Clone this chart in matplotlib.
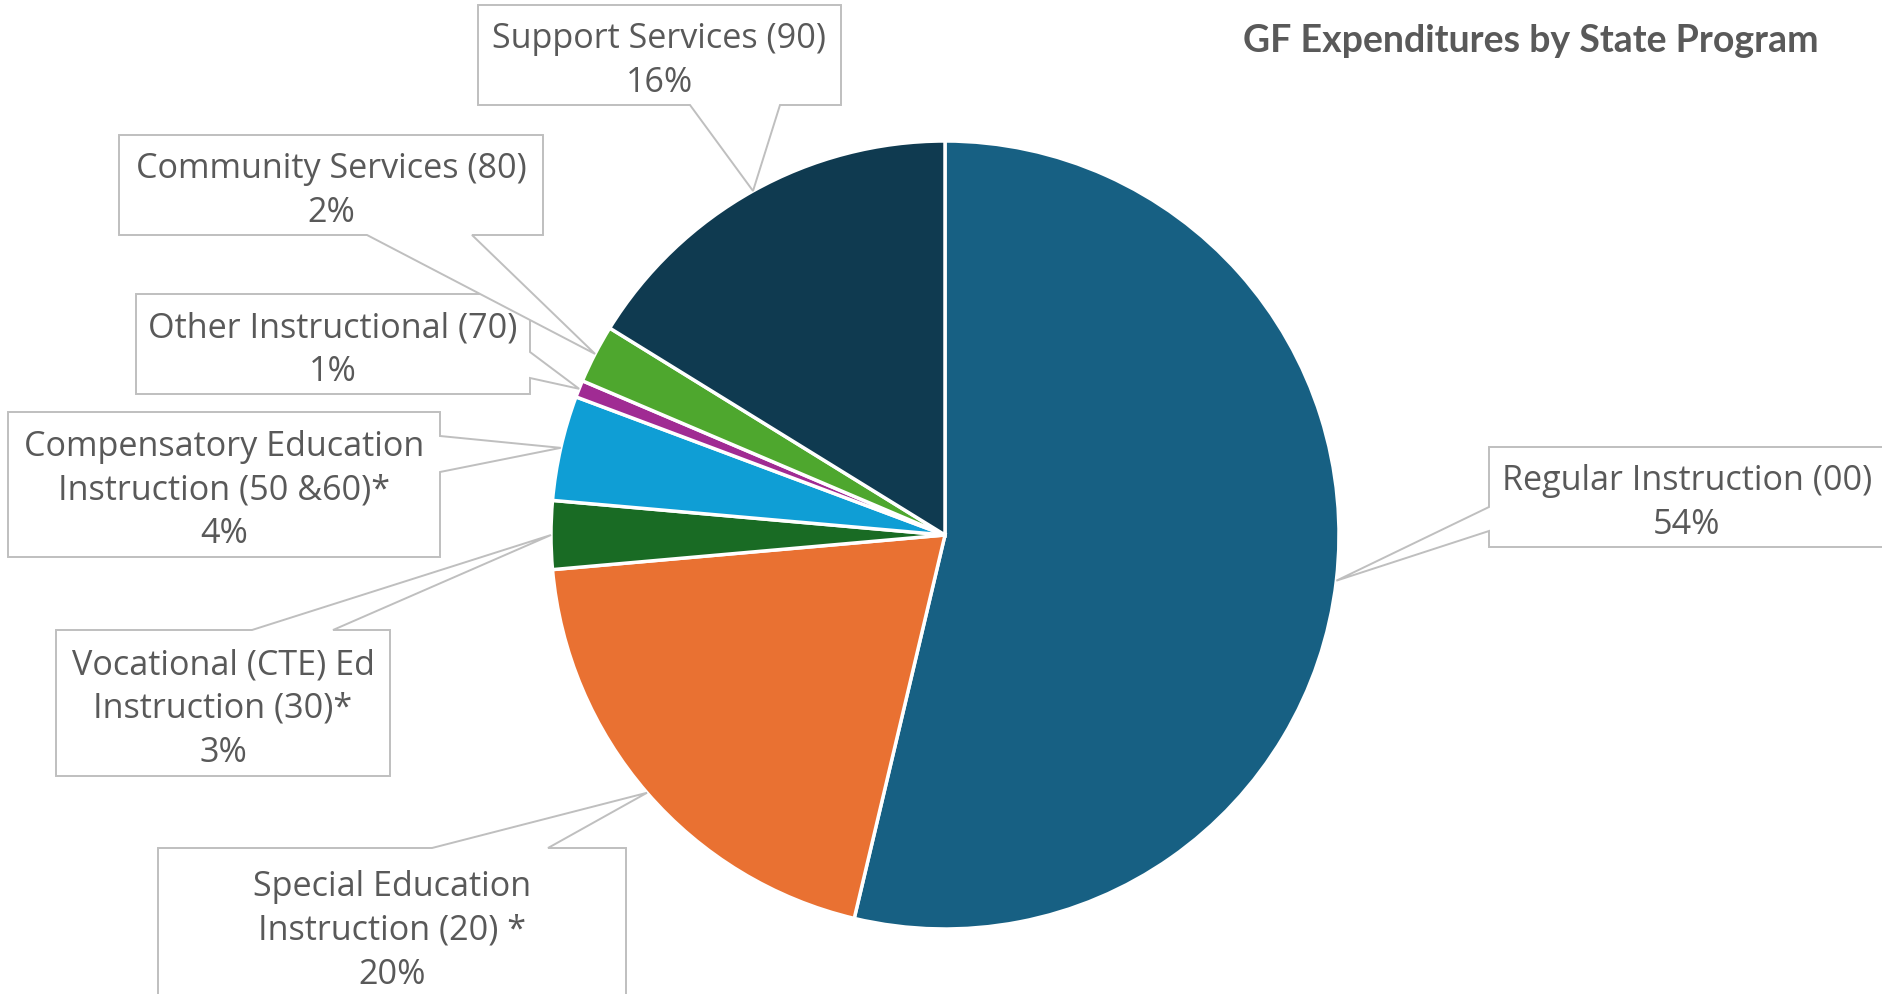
import matplotlib

matplotlib.use("Agg")
import matplotlib.pyplot as plt
from matplotlib.patches import Polygon
import numpy as np

# data, in the order Excel drew the slices (clockwise from 12 o'clock)
programs = ['Regular Instruction (00)',
            'Special Education\nInstruction (20) *',
            'Vocational (CTE) Ed\nInstruction (30)*',
            'Compensatory Education\nInstruction (50 &60)*',
            'Other Instructional (70)',
            'Community Services (80)',
            'Support Services (90)']
shares = [53.7, 19.9, 2.8, 4.3, 0.7, 2.4, 16.2]
colors = ['#176083', '#E97132', '#196B24', '#0F9ED5', '#A02B93', '#4EA72E', '#0F3A50']
title = 'GF Expenditures by State Program'

W, H = 1883, 995
TXT = '#595959'
BOX = '#BFBFBF'

# callout boxes in pixel coords (x0, y0, x1, y1, side the pointer leaves from, base1, base2)
boxes = [
    (1489, 448, 1885, 548, 'left', 508, 532),
    (158, 849, 626, 1003, 'top', 432, 548),
    (56, 631, 390, 777, 'top', 252, 333),
    (8, 413, 440, 558, 'right', 437, 473),
    (136, 295, 530, 395, 'right', 353, 379),
    (119, 136, 543, 236, 'bottom', 367, 472),
    (478, 6, 841, 106, 'bottom', 690, 780),
]

cx, cy, r = 945, 536, 394


def callout(x0, y0, x1, y1, side, b1, b2, tip):
    # walk the box clockwise (image coords) and cut the pointer in
    pts = [(x0, y0)]
    if side == 'top':
        pts += [(b1, y0), tip, (b2, y0)]
    pts.append((x1, y0))
    if side == 'right':
        pts += [(x1, b1), tip, (x1, b2)]
    pts.append((x1, y1))
    if side == 'bottom':
        pts += [(b2, y1), tip, (b1, y1)]
    pts.append((x0, y1))
    if side == 'left':
        pts += [(x0, b2), tip, (x0, b1)]
    return [(x, H - y) for x, y in pts]


fig = plt.figure(figsize=(W / 100, H / 100), dpi=100)
ax = fig.add_axes([0, 0, 1, 1])

wedges, _ = ax.pie(shares, colors=colors, startangle=90, counterclock=False,
                   center=(cx, H - cy), radius=r,
                   wedgeprops=dict(edgecolor='white', linewidth=2.5))
ax.set_xlim(0, W)
ax.set_ylim(0, H)
ax.set_aspect('equal')
ax.axis('off')

total = sum(shares)
for w, name, v, b in zip(wedges, programs, shares, boxes):
    mid = np.deg2rad((w.theta1 + w.theta2) / 2)
    tip = (cx + r * np.cos(mid), cy - r * np.sin(mid))
    x0, y0, x1, y1, side, b1, b2 = b
    ax.add_patch(Polygon(callout(x0, y0, x1, y1, side, b1, b2, tip), closed=True,
                         facecolor='white', edgecolor=BOX, linewidth=1.4, zorder=3))
    ax.text((x0 + x1) / 2, H - (y0 + y1) / 2 - 5, f'{name}\n{v / total * 100:.0f}%',
            ha='center', va='center', ma='center', color=TXT, fontsize=24.6,
            family='Open Sans', linespacing=1.38, zorder=4)

ax.text(1531, H - 41, title, ha='center', va='center', color=TXT,
        fontsize=27, fontweight='bold', family='Lato')

fig.savefig('out.png', dpi=100)
